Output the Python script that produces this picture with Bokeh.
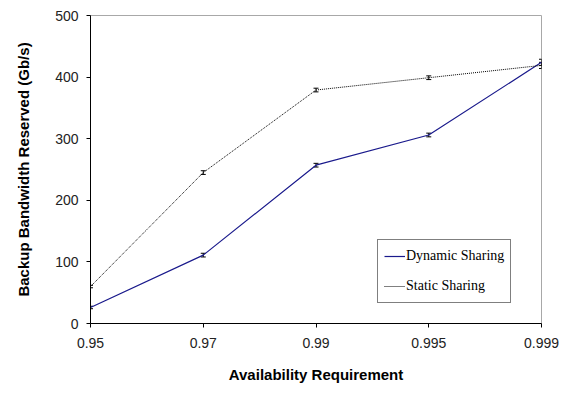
from bokeh.plotting import figure
from bokeh.models import ColumnDataSource, Whisker, FixedTicker, Legend, LegendItem, TeeHead
from bokeh.embed import file_html
from bokeh.resources import INLINE

categories = ["0.95", "0.97", "0.99", "0.995", "0.999"]
dynamic = [26, 111, 257, 306, 424]
dynamic_err = [2, 3, 3, 3, 5]
static = [60, 245, 379, 399, 419]
static_err = [2, 3, 3, 3, 5]

xs = list(range(len(categories)))

p = figure(width=561, height=387, output_backend="svg", toolbar_location=None,
           x_range=(0, len(categories) - 1), y_range=(0, 500),
           min_border_left=90, min_border_right=20, min_border_top=15, min_border_bottom=64)
p.xgrid.visible = False
p.ygrid.visible = False
p.outline_line_color = "#a8a8a8"
p.outline_line_width = 1
p.background_fill_color = "white"
p.border_fill_color = "white"

src_d = ColumnDataSource(dict(x=xs, y=dynamic, lo=[v - e for v, e in zip(dynamic, dynamic_err)],
                              hi=[v + e for v, e in zip(dynamic, dynamic_err)]))
src_s = ColumnDataSource(dict(x=xs, y=static, lo=[v - e for v, e in zip(static, static_err)],
                              hi=[v + e for v, e in zip(static, static_err)]))

ld = p.line("x", "y", source=src_d, line_color="#1a1a8c", line_width=1.2)
ls = p.line("x", "y", source=src_s, line_color="black", line_width=1, line_dash="1 1")

for src in (src_d, src_s):
    w = Whisker(base="x", upper="hi", lower="lo", source=src, line_color="black", line_width=1,
                upper_head=TeeHead(size=5, line_color="black", line_width=1),
                lower_head=TeeHead(size=5, line_color="black", line_width=1))
    p.add_layout(w)

p.xaxis.ticker = FixedTicker(ticks=xs)
p.xaxis.major_label_overrides = {i: c for i, c in enumerate(categories)}
p.yaxis.ticker = FixedTicker(ticks=[0, 100, 200, 300, 400, 500])

for ax in (p.xaxis[0], p.yaxis[0]):
    ax.axis_line_color = "black"
    ax.axis_line_width = 1
    ax.major_tick_line_color = "black"
    ax.major_tick_out = 4
    ax.major_tick_in = 0
    ax.minor_tick_line_color = None
    ax.major_label_text_font = "Liberation Sans"
    ax.major_label_text_font_size = "14px"
    ax.major_label_text_color = "#222222"
    ax.axis_label_text_font = "Liberation Sans"
    ax.axis_label_text_font_size = "15px"
    ax.axis_label_text_font_style = "bold"
    ax.axis_label_text_color = "black"

p.xaxis.axis_label = "Availability Requirement"
p.yaxis.axis_label = "Backup Bandwidth Reserved (Gb/s)"
p.xaxis.major_label_standoff = 10
p.xaxis.axis_label_standoff = 15
p.yaxis.major_label_standoff = 8
p.yaxis.axis_label_standoff = 20

legend = Legend(items=[LegendItem(label="Dynamic Sharing", renderers=[ld]),
                       LegendItem(label="Static Sharing", renderers=[ls])],
                location=(287, 20))
legend.border_line_color = "black"
legend.border_line_width = 1
legend.label_text_font = "Liberation Serif"
legend.label_text_font_size = "14px"
legend.label_text_color = "black"
legend.glyph_width = 21
legend.glyph_height = 20
legend.label_height = 20
legend.label_standoff = 1
legend.padding = 6
legend.spacing = 10
legend.margin = 0
legend.background_fill_alpha = 1
p.add_layout(legend, "center")

open("out.html", "w").write(file_html(p, INLINE))
